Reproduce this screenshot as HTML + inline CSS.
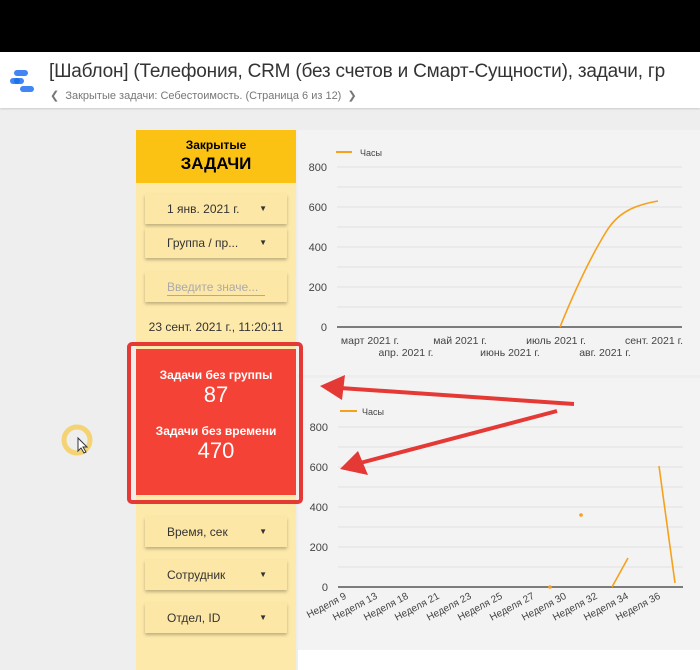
<!DOCTYPE html><html><head><meta charset="utf-8"><style>
body{margin:0;width:700px;height:670px;overflow:hidden;background:#eeeeee;font-family:"Liberation Sans",sans-serif;position:relative}
.a{position:absolute}
.btn{position:absolute;left:145px;width:142px;height:30px;background:#fde7a6;box-shadow:0 2px 3px rgba(0,0,0,.25);font-size:12px;color:#333;line-height:30px;box-sizing:border-box;padding-left:22px}
.btn span{position:absolute;right:20px;font-size:8px}
</style></head><body>
<div class="a" style="left:0;top:0;width:700px;height:52px;background:#000"></div>
<div class="a" style="left:0;top:52px;width:700px;height:56px;background:#fff;box-shadow:0 1px 2px rgba(0,0,0,.15)"></div>
<svg class="a" style="left:10px;top:70px" width="30" height="30"><rect x="4" y="0" width="14" height="6" rx="3" fill="#4285f4"/><rect x="0" y="8" width="14" height="6" rx="3" fill="#4285f4"/><rect x="10" y="16" width="14" height="6" rx="3" fill="#4285f4"/><circle cx="7" cy="11" r="3" fill="#1a73e8"/></svg>
<div class="a" style="left:49px;top:61px;font-size:19px;color:#333;white-space:nowrap;letter-spacing:-0.2px">[Шаблон] (Телефония, CRM (без счетов и Смарт-Сущности), задачи, гр</div>
<div class="a" style="left:50px;top:89px;font-size:11px;color:#777;white-space:nowrap">❮&nbsp; Закрытые задачи: Себестоимость. (Страница 6 из 12) &nbsp;❯</div>
<div class="a" style="left:136px;top:130px;width:160px;height:540px;background:#fde9a9"></div>
<div class="a" style="left:136px;top:130px;width:160px;height:53px;background:#fbc213;text-align:center"><div style="font-size:12px;font-weight:bold;margin-top:8px">Закрытые</div><div style="font-size:17px;font-weight:bold;margin-top:2px">ЗАДАЧИ</div></div>
<div class="btn" style="top:194px">1 янв. 2021 г.<span>▼</span></div>
<div class="btn" style="top:228px">Группа / пр...<span>▼</span></div>
<div class="btn" style="top:272px;color:#aaa">Введите значе...<div style="position:absolute;left:22px;right:22px;bottom:6px;border-top:1px solid #aaa"></div></div>
<div class="a" style="left:136px;top:320px;width:160px;text-align:center;font-size:12px;color:#333">23 сент. 2021 г., 11:20:11</div>
<div class="btn" style="top:517px">Время, сек<span>▼</span></div>
<div class="btn" style="top:560px">Сотрудник<span>▼</span></div>
<div class="btn" style="top:603px">Отдел, ID<span>▼</span></div>
<div class="a" style="left:298px;top:130px;width:402px;height:245px;background:#f3f3f3"></div>
<div class="a" style="left:298px;top:378px;width:402px;height:272px;background:#f3f3f3"></div>
<div class="a" style="left:298px;top:650px;width:402px;height:20px;background:#fff"></div>
<div class="a" style="left:136px;top:349px;width:160px;height:146px;background:#f44336;color:#fff;text-align:center"><div style="font-size:12px;font-weight:bold;margin-top:19px">Задачи без группы</div><div style="font-size:22px">87</div><div style="font-size:12px;font-weight:bold;margin-top:16px">Задачи без времени</div><div style="font-size:22px">470</div></div>
<div class="a" style="left:127px;top:342px;width:168px;height:154px;border:4px solid #e53935;border-radius:5px"></div>
<svg class="a" style="left:0;top:0" width="700" height="670" font-family="Liberation Sans" font-size="11" fill="#444">
<g stroke="#e0e0e0"><line x1="337" x2="682" y1="167" y2="167"/><line x1="337" x2="682" y1="187" y2="187"/><line x1="337" x2="682" y1="207" y2="207"/><line x1="337" x2="682" y1="227" y2="227"/><line x1="337" x2="682" y1="247" y2="247"/><line x1="337" x2="682" y1="267" y2="267"/><line x1="337" x2="682" y1="287" y2="287"/><line x1="337" x2="682" y1="307" y2="307"/></g>
<line x1="337" x2="682" y1="327" y2="327" stroke="#555" stroke-width="1.5"/>
<g text-anchor="end"><text x="327" y="171">800</text><text x="327" y="211">600</text><text x="327" y="251">400</text><text x="327" y="291">200</text><text x="327" y="331">0</text></g>
<line x1="336" x2="352" y1="152" y2="152" stroke="#f6a11c" stroke-width="2"/><text x="360" y="156" font-size="9">Часы</text>
<path d="M560,327 C575,290 590,258 606,232 C618,212 635,205 658,201" fill="none" stroke="#f6a11c" stroke-width="1.6"/>
<g text-anchor="middle" font-size="10.5"><text x="370" y="344">март 2021 г.</text><text x="460" y="344">май 2021 г.</text><text x="556" y="344">июль 2021 г.</text><text x="654" y="344">сент. 2021 г.</text><text x="406" y="356">апр. 2021 г.</text><text x="510" y="356">июнь 2021 г.</text><text x="605" y="356">авг. 2021 г.</text></g>
<g stroke="#e0e0e0"><line x1="338" x2="683" y1="427" y2="427"/><line x1="338" x2="683" y1="447" y2="447"/><line x1="338" x2="683" y1="467" y2="467"/><line x1="338" x2="683" y1="487" y2="487"/><line x1="338" x2="683" y1="507" y2="507"/><line x1="338" x2="683" y1="527" y2="527"/><line x1="338" x2="683" y1="547" y2="547"/><line x1="338" x2="683" y1="567" y2="567"/></g>
<line x1="338" x2="683" y1="587" y2="587" stroke="#555" stroke-width="1.5"/>
<g text-anchor="end"><text x="328" y="431">800</text><text x="328" y="471">600</text><text x="328" y="511">400</text><text x="328" y="551">200</text><text x="328" y="591">0</text></g>
<line x1="340" x2="357" y1="411" y2="411" stroke="#f6a11c" stroke-width="2"/><text x="362" y="415" font-size="9">Часы</text>
<g stroke="#f6a11c" stroke-width="1.6"><line x1="612" y1="587" x2="628" y2="558"/><line x1="659" y1="466" x2="675" y2="583"/></g>
<circle cx="581" cy="515" r="1.8" fill="#f6a11c"/><circle cx="550" cy="587" r="1.8" fill="#f6a11c"/>
<g text-anchor="end" font-size="10"><text transform="translate(347,598) rotate(-28)">Неделя 9</text><text transform="translate(378,598) rotate(-28)">Неделя 13</text><text transform="translate(409,598) rotate(-28)">Неделя 18</text><text transform="translate(440,598) rotate(-28)">Неделя 21</text><text transform="translate(472,598) rotate(-28)">Неделя 23</text><text transform="translate(503,598) rotate(-28)">Неделя 25</text><text transform="translate(535,598) rotate(-28)">Неделя 27</text><text transform="translate(567,598) rotate(-28)">Неделя 30</text><text transform="translate(598,598) rotate(-28)">Неделя 32</text><text transform="translate(629,598) rotate(-28)">Неделя 34</text><text transform="translate(661,598) rotate(-28)">Неделя 36</text></g>
<g stroke="#e53935" stroke-width="4" fill="#e53935"><line x1="574" y1="404" x2="340" y2="388"/><polygon points="320,386 345,375 342,400" stroke="none"/><line x1="557" y1="411" x2="360" y2="463"/><polygon points="340,469 358,451 368,475" stroke="none"/></g>
<circle cx="77" cy="440" r="13" fill="none" stroke="#f5cc55" stroke-width="5" opacity=".8"/>
<path d="M78,438 l0,13 l3,-3 l3,5 l2,-1 l-3,-5 l4,0z" fill="#fff" stroke="#333" stroke-width="1"/>
</svg>
</body></html>
